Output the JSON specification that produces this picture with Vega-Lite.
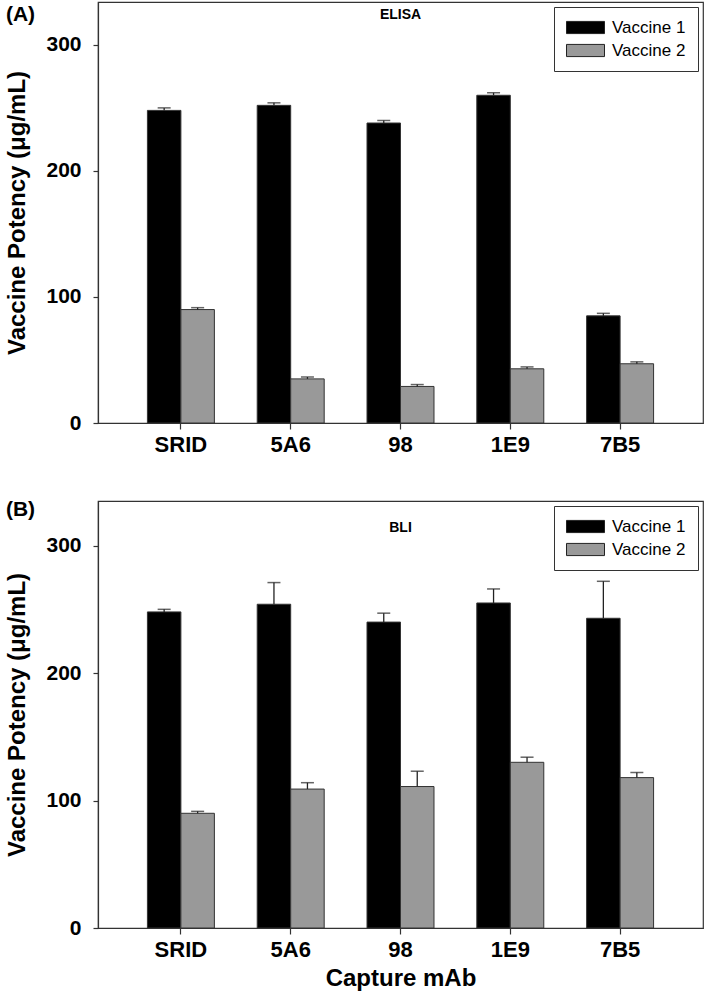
{
  "$schema": "https://vega.github.io/schema/vega-lite/v6.json",
  "padding": {"left": 5, "top": 1, "right": 0, "bottom": 0},
  "background": "white",
  "datasets": {
    "elisa": [
      {"mAb": "SRID", "vaccine": "Vaccine 1", "value": 248, "upper": 250},
      {"mAb": "SRID", "vaccine": "Vaccine 2", "value": 90, "upper": 91.5},
      {"mAb": "5A6", "vaccine": "Vaccine 1", "value": 252, "upper": 254},
      {"mAb": "5A6", "vaccine": "Vaccine 2", "value": 35, "upper": 36.5},
      {"mAb": "98", "vaccine": "Vaccine 1", "value": 238, "upper": 240},
      {"mAb": "98", "vaccine": "Vaccine 2", "value": 29, "upper": 30.5},
      {"mAb": "1E9", "vaccine": "Vaccine 1", "value": 260, "upper": 262},
      {"mAb": "1E9", "vaccine": "Vaccine 2", "value": 43, "upper": 44.5},
      {"mAb": "7B5", "vaccine": "Vaccine 1", "value": 85, "upper": 87},
      {"mAb": "7B5", "vaccine": "Vaccine 2", "value": 47, "upper": 48.5}
    ],
    "bli": [
      {"mAb": "SRID", "vaccine": "Vaccine 1", "value": 248, "upper": 250},
      {"mAb": "SRID", "vaccine": "Vaccine 2", "value": 90, "upper": 91.5},
      {"mAb": "5A6", "vaccine": "Vaccine 1", "value": 254, "upper": 271},
      {"mAb": "5A6", "vaccine": "Vaccine 2", "value": 109, "upper": 114},
      {"mAb": "98", "vaccine": "Vaccine 1", "value": 240, "upper": 247},
      {"mAb": "98", "vaccine": "Vaccine 2", "value": 111, "upper": 123},
      {"mAb": "1E9", "vaccine": "Vaccine 1", "value": 255, "upper": 266},
      {"mAb": "1E9", "vaccine": "Vaccine 2", "value": 130, "upper": 134},
      {"mAb": "7B5", "vaccine": "Vaccine 1", "value": 243, "upper": 272},
      {"mAb": "7B5", "vaccine": "Vaccine 2", "value": 118, "upper": 122}
    ],
    "labelA": [{"name": "ELISA", "pos": 0.5, "level": 329}],
    "labelB": [{"name": "BLI", "pos": 0.5, "level": 319}]
  },
  "columns": 1,
  "align": "none",
  "spacing": 42,
  "resolve": {"scale": {"color": "independent", "y": "independent", "x": "independent"}, "legend": {"color": "independent"}},
  "concat": [
    {
      "title": {"text": "(A)", "anchor": "start", "frame": "bounds", "offset": -23, "fontSize": 21, "fontWeight": "bold", "font": "Liberation Sans", "color": "#000"},
      "width": 605,
      "height": 421,
      "resolve": {"scale": {"x": "independent"}},
      "layer": [
        {
          "data": {"name": "elisa"},
          "encoding": {
            "x": {"field": "mAb", "type": "nominal", "sort": ["SRID", "5A6", "98", "1E9", "7B5"], "scale": {"paddingInner": 0.39, "paddingOuter": 0.45}, "axis": {"title": null}},
            "xOffset": {"field": "vaccine", "type": "nominal", "sort": ["Vaccine 1", "Vaccine 2"], "scale": {"paddingInner": 0, "paddingOuter": 0}}
          },
          "layer": [
            {
              "mark": {"type": "bar", "stroke": "#333", "strokeWidth": 1},
              "encoding": {
                "y": {"field": "value", "type": "quantitative", "scale": {"domain": [0, 334], "nice": false}, "axis": {"values": [0, 100, 200, 300], "title": "Vaccine Potency (μg/mL)", "titlePadding": 16}},
                "color": {"field": "vaccine", "type": "nominal", "scale": {"domain": ["Vaccine 1", "Vaccine 2"], "range": ["#000000", "#999999"]},
                  "legend": {"title": null, "orient": "top-right", "offset": 5}}
              }
            },
            {
              "mark": {"type": "rule", "color": "#222", "strokeWidth": 1.3},
              "encoding": {"y": {"field": "value", "type": "quantitative"}, "y2": {"field": "upper"}}
            },
            {
              "mark": {"type": "tick", "color": "#222", "thickness": 1.5, "size": 13},
              "encoding": {"y": {"field": "upper", "type": "quantitative"}}
            }
          ]
        },
        {
          "data": {"name": "labelA"},
          "mark": {"type": "text", "baseline": "top", "align": "center", "fontSize": 14, "fontWeight": "bold", "font": "Liberation Sans", "color": "#000"},
          "encoding": {
            "x": {"field": "pos", "type": "quantitative", "scale": {"domain": [0, 1]}, "axis": null},
            "y": {"field": "level", "type": "quantitative"},
            "text": {"field": "name"}
          }
        }
      ]
    },
    {
      "title": {"text": "(B)", "anchor": "start", "frame": "bounds", "offset": -19, "fontSize": 21, "fontWeight": "bold", "font": "Liberation Sans", "color": "#000"},
      "width": 605,
      "height": 427,
      "resolve": {"scale": {"x": "independent"}},
      "layer": [
        {
          "data": {"name": "bli"},
          "encoding": {
            "x": {"field": "mAb", "type": "nominal", "sort": ["SRID", "5A6", "98", "1E9", "7B5"], "scale": {"paddingInner": 0.39, "paddingOuter": 0.45}, "axis": {"title": "Capture mAb", "titlePadding": 6}},
            "xOffset": {"field": "vaccine", "type": "nominal", "sort": ["Vaccine 1", "Vaccine 2"], "scale": {"paddingInner": 0, "paddingOuter": 0}}
          },
          "layer": [
            {
              "mark": {"type": "bar", "stroke": "#333", "strokeWidth": 1},
              "encoding": {
                "y": {"field": "value", "type": "quantitative", "scale": {"domain": [0, 335], "nice": false}, "axis": {"values": [0, 100, 200, 300], "title": "Vaccine Potency (μg/mL)", "titlePadding": 16}},
                "color": {"field": "vaccine", "type": "nominal", "scale": {"domain": ["Vaccine 1", "Vaccine 2"], "range": ["#000000", "#999999"]},
                  "legend": {"title": null, "orient": "top-right", "offset": 5}}
              }
            },
            {
              "mark": {"type": "rule", "color": "#222", "strokeWidth": 1.3},
              "encoding": {"y": {"field": "value", "type": "quantitative"}, "y2": {"field": "upper"}}
            },
            {
              "mark": {"type": "tick", "color": "#222", "thickness": 1.5, "size": 13},
              "encoding": {"y": {"field": "upper", "type": "quantitative"}}
            }
          ]
        },
        {
          "data": {"name": "labelB"},
          "mark": {"type": "text", "baseline": "top", "align": "center", "fontSize": 14, "fontWeight": "bold", "font": "Liberation Sans", "color": "#000"},
          "encoding": {
            "x": {"field": "pos", "type": "quantitative", "scale": {"domain": [0, 1]}, "axis": null},
            "y": {"field": "level", "type": "quantitative"},
            "text": {"field": "name"}
          }
        }
      ]
    }
  ],
  "config": {
    "font": "Liberation Sans",
    "view": {"stroke": "#333", "strokeWidth": 1.2},
    "axis": {"domainColor": "#333", "tickColor": "#333", "domainWidth": 1.2, "tickWidth": 1.2, "grid": false,
      "labelFont": "Liberation Sans", "titleFont": "Liberation Sans", "labelFontWeight": "bold", "titleFontWeight": "bold",
      "labelColor": "#000", "titleColor": "#000"},
    "axisX": {"labelFontSize": 22, "tickSize": 6, "labelPadding": 5, "titleFontSize": 24, "labelAngle": 0},
    "axisY": {"labelFontSize": 21, "tickSize": 5, "labelPadding": 12, "titleFontSize": 24},
    "legend": {"fillColor": "white", "strokeColor": "#333", "padding": 12, "symbolType": "M-1,-0.32H1V0.32H-1Z", "symbolSize": 1444,
      "symbolStrokeColor": "#222", "symbolStrokeWidth": 1, "labelFontSize": 17, "labelOffset": 7, "rowPadding": 5, "clipHeight": 17,
      "labelFont": "Liberation Sans", "labelColor": "#000"}
  }
}
